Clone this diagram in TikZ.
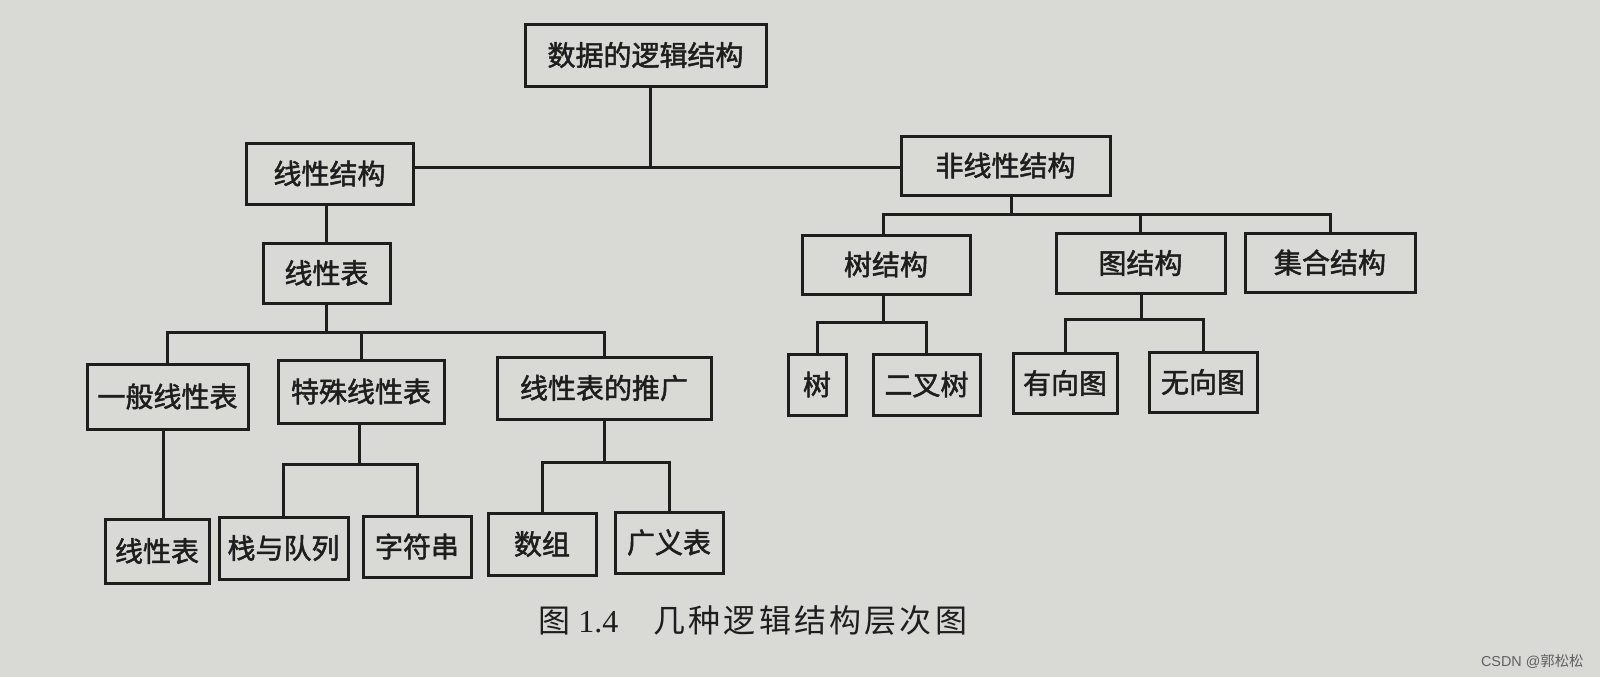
\documentclass[tikz,border=0pt]{standalone}
\usepackage{fontspec}
\setmainfont{Liberation Serif}
\newfontfamily\cjkb[FakeBold=1.8]{Noto Sans CJK SC}
\newfontfamily\cjk{Noto Sans CJK SC}
\newfontfamily\cjkcap[LetterSpace=10]{Noto Sans CJK SC}
\newfontfamily\sansf{Liberation Sans}
\definecolor{paper}{HTML}{D9D9D5}
\definecolor{ink}{HTML}{1E1E1E}
\tikzset{
  box/.style={draw=ink, line width=1.5pt, inner sep=0pt, font=\cjkb\fontsize{14}{16}\selectfont, text=ink},
  conn/.style={draw=ink, line width=1.5pt}
}
\begin{document}
\begin{tikzpicture}[x=0.5pt,y=-0.5pt]
\fill[paper] (0,0) rectangle (1600,677);
\useasboundingbox (0,0) rectangle (1600,677);
% level 0/1
\node[box, minimum width=241*0.5pt, minimum height=62*0.5pt] (top) at (645.5,55) {数据的逻辑结构};
\node[box, minimum width=167*0.5pt, minimum height=61*0.5pt] (lin) at (329.5,173.5) {线性结构};
\node[box, minimum width=209*0.5pt, minimum height=59*0.5pt] (nonlin) at (1005.5,165.5) {非线性结构};
\coordinate (j0) at (650,167);
\draw[conn] (top.south -| j0) -- (j0);
\draw[conn] (lin.east |- j0) -- (nonlin.west |- j0);
% linear branch
\node[box, minimum width=127*0.5pt, minimum height=60*0.5pt] (lt) at (326.5,273) {线性表};
\draw[conn] (lt.north) -- (lt.north |- lin.south);
\node[box, minimum width=161*0.5pt, minimum height=65*0.5pt] (g1) at (167.5,396.5) {一般线性表};
\node[box, minimum width=166*0.5pt, minimum height=63*0.5pt] (g2) at (361,391.5) {特殊线性表};
\node[box, minimum width=214*0.5pt, minimum height=62*0.5pt] (g3) at (604,388) {线性表的推广};
\coordinate (j1) at (326.5,332);
\draw[conn] (lt.south) -- (j1);
\draw[conn] (g1.north) -- (g1.north |- j1) -- (g3.north |- j1) -- (g3.north);
\draw[conn] (g2.north) -- (g2.north |- j1);
\node[box, minimum width=104*0.5pt, minimum height=64*0.5pt] (l1) at (157,551) {线性表};
\node[box, minimum width=129*0.5pt, minimum height=62*0.5pt] (l2) at (283.5,548) {栈与队列};
\node[box, minimum width=108*0.5pt, minimum height=61*0.5pt] (l3) at (417,546.5) {字符串};
\node[box, minimum width=108*0.5pt, minimum height=62*0.5pt] (l4) at (542,544) {数组};
\node[box, minimum width=108*0.5pt, minimum height=61*0.5pt] (l5) at (669,542.5) {广义表};
\draw[conn] (g1.south -| 163,0) -- (l1.north -| 163,0);
\coordinate (j2) at (359,464);
\draw[conn] (g2.south -| j2) -- (j2);
\draw[conn] (l2.north) -- (l2.north |- j2) -- (l3.north |- j2) -- (l3.north);
\coordinate (j3) at (604,462);
\draw[conn] (g3.south) -- (j3);
\draw[conn] (l4.north) -- (l4.north |- j3) -- (l5.north |- j3) -- (l5.north);
% nonlinear branch
\node[box, minimum width=168*0.5pt, minimum height=59*0.5pt] (t1) at (886,264.5) {树结构};
\node[box, minimum width=169*0.5pt, minimum height=60*0.5pt] (t2) at (1140.5,263) {图结构};
\node[box, minimum width=170*0.5pt, minimum height=59*0.5pt] (t3) at (1330,262.5) {集合结构};
\coordinate (j4) at (1011,214);
\draw[conn] (nonlin.south -| j4) -- (j4);
\draw[conn] (t1.north -| 883,0) -- (883,214) -- (t3.north |- j4) -- (t3.north);
\draw[conn] (t2.north) -- (t2.north |- j4);
\node[box, minimum width=58*0.5pt, minimum height=61*0.5pt] (r1) at (817,384.5) {树};
\node[box, minimum width=107*0.5pt, minimum height=61*0.5pt] (r2) at (926.5,384.5) {二叉树};
\node[box, minimum width=104*0.5pt, minimum height=60*0.5pt] (r3) at (1065,383) {有向图};
\node[box, minimum width=108*0.5pt, minimum height=60*0.5pt] (r4) at (1203,382) {无向图};
\coordinate (j5) at (883,322);
\draw[conn] (t1.south -| j5) -- (j5);
\draw[conn] (r1.north) -- (r1.north |- j5) -- (r2.north |- j5) -- (r2.north);
\coordinate (j6) at (1141,319);
\draw[conn] (t2.south -| j6) -- (j6);
\draw[conn] (r3.north) -- (r3.north |- j6) -- (r4.north |- j6) -- (r4.north);
% caption
\node[anchor=base west, inner sep=0pt, text=ink, font=\fontsize{16}{18}\selectfont] (cap) at (538,632) {{\cjk 图}\hspace{0.25em}1.4\hspace{1.1em}{\cjkcap 几种逻辑结构层次图}};
% watermark
\node[anchor=east, inner sep=0pt, text=gray!75!black, font=\sansf\fontsize{7.2}{8}\selectfont] (wm) at (1584,661) {CSDN @{\cjk 郭松松}};
\end{tikzpicture}
\end{document}
